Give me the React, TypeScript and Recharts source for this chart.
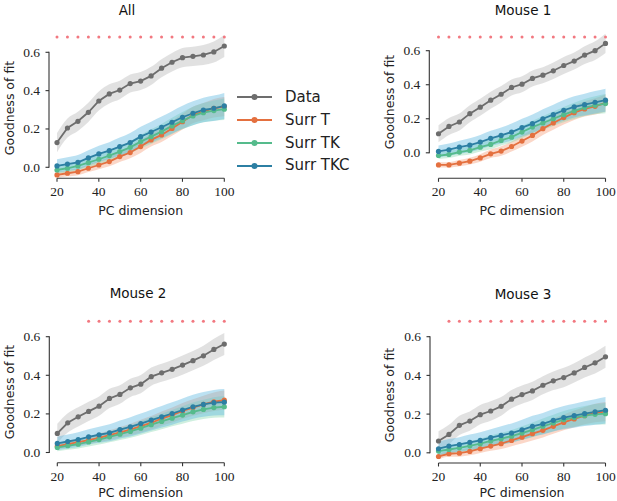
import React from 'react';
import { ComposedChart, Line, Area, XAxis, YAxis, Legend } from 'recharts';

// ---------------- data ----------------
const PC_DIMS = [20, 25, 30, 35, 40, 45, 50, 55, 60, 65, 70, 75, 80, 85, 90, 95, 100];
const X_TICKS = [20, 40, 60, 80, 100];
const Y_TICKS = [0, 0.2, 0.4, 0.6];
const SERIES_NAMES = ['Data', 'Surr T', 'Surr TK', 'Surr TKC'];
const PANEL_TITLES = ['All', 'Mouse 1', 'Mouse 2', 'Mouse 3'];
const SIG_LEVEL = 0.68;

// All
const ALL_DATA = [0.129, 0.205, 0.24, 0.287, 0.346, 0.383, 0.403, 0.437, 0.45, 0.477, 0.517, 0.548, 0.572, 0.579, 0.586, 0.602, 0.633];
const ALL_SURR_T = [-0.04, -0.031, -0.023, -0.005, 0.012, 0.03, 0.056, 0.077, 0.108, 0.143, 0.169, 0.203, 0.238, 0.273, 0.29, 0.308, 0.317];
const ALL_SURR_TK = [-0.014, -0.005, 0.007, 0.024, 0.042, 0.061, 0.082, 0.104, 0.134, 0.16, 0.186, 0.216, 0.243, 0.268, 0.285, 0.296, 0.303];
const ALL_SURR_TKC = [0.007, 0.017, 0.026, 0.049, 0.07, 0.087, 0.108, 0.129, 0.16, 0.184, 0.209, 0.235, 0.261, 0.282, 0.299, 0.308, 0.32];
const ALL_SIG = [20, 25, 30, 35, 40, 45, 50, 55, 60, 65, 70, 75, 80, 85, 90, 95, 100];

// Mouse 1
const M1_DATA = [0.112, 0.155, 0.181, 0.23, 0.268, 0.309, 0.344, 0.384, 0.403, 0.437, 0.456, 0.482, 0.513, 0.539, 0.574, 0.6, 0.643];
const M1_SURR_T = [-0.071, -0.071, -0.061, -0.049, -0.03, -0.006, 0.01, 0.037, 0.069, 0.102, 0.142, 0.175, 0.207, 0.236, 0.258, 0.273, 0.293];
const M1_SURR_TK = [-0.016, -0.01, 0.004, 0.014, 0.033, 0.049, 0.073, 0.092, 0.122, 0.151, 0.175, 0.2, 0.224, 0.246, 0.266, 0.279, 0.289];
const M1_SURR_TKC = [0.008, 0.018, 0.033, 0.045, 0.063, 0.085, 0.102, 0.122, 0.148, 0.171, 0.2, 0.224, 0.25, 0.27, 0.283, 0.297, 0.309];
const M1_SIG = [20, 25, 30, 35, 40, 45, 50, 55, 60, 65, 70, 75, 80, 85, 90, 95, 100];

// Mouse 2
const M2_DATA = [0.099, 0.154, 0.185, 0.213, 0.24, 0.28, 0.301, 0.335, 0.354, 0.393, 0.413, 0.431, 0.453, 0.476, 0.501, 0.534, 0.562];
const M2_SURR_T = [0.033, 0.043, 0.054, 0.064, 0.076, 0.09, 0.104, 0.119, 0.137, 0.154, 0.176, 0.194, 0.215, 0.233, 0.249, 0.263, 0.271];
const M2_SURR_TK = [0.026, 0.035, 0.043, 0.055, 0.067, 0.081, 0.095, 0.109, 0.126, 0.144, 0.161, 0.178, 0.194, 0.211, 0.223, 0.233, 0.237];
const M2_SURR_TKC = [0.047, 0.057, 0.067, 0.081, 0.092, 0.102, 0.119, 0.133, 0.15, 0.168, 0.185, 0.202, 0.22, 0.237, 0.249, 0.258, 0.261];
const M2_SIG = [35, 40, 45, 50, 55, 60, 65, 70, 75, 80, 85, 90, 95, 100];

// Mouse 3
const M3_DATA = [0.061, 0.095, 0.142, 0.164, 0.197, 0.216, 0.24, 0.277, 0.301, 0.32, 0.349, 0.372, 0.389, 0.413, 0.441, 0.465, 0.496];
const M3_SURR_T = [-0.019, -0.005, -0.002, 0.007, 0.021, 0.035, 0.047, 0.064, 0.081, 0.099, 0.116, 0.137, 0.157, 0.175, 0.192, 0.206, 0.213];
const M3_SURR_TK = [0.009, 0.017, 0.026, 0.036, 0.047, 0.061, 0.073, 0.086, 0.102, 0.119, 0.137, 0.154, 0.171, 0.182, 0.192, 0.199, 0.202];
const M3_SURR_TKC = [0.021, 0.035, 0.043, 0.054, 0.064, 0.078, 0.09, 0.102, 0.119, 0.137, 0.15, 0.168, 0.182, 0.192, 0.202, 0.211, 0.22];
const M3_SIG = [25, 30, 35, 40, 45, 50, 55, 60, 65, 70, 75, 80, 85, 90, 95, 100];

// shaded band half-widths (per series)
const BAND_DATA = [0.05, 0.05, 0.05, 0.05, 0.05, 0.05, 0.048, 0.047, 0.047, 0.047, 0.047, 0.048, 0.05, 0.05, 0.052, 0.055, 0.057];
const BAND_SURR_T = [0.015, 0.016, 0.018, 0.02, 0.022, 0.025, 0.028, 0.03, 0.033, 0.035, 0.037, 0.039, 0.041, 0.043, 0.045, 0.048, 0.05];
const BAND_SURR_TK = [0.02, 0.021, 0.022, 0.024, 0.026, 0.028, 0.03, 0.032, 0.035, 0.038, 0.04, 0.042, 0.045, 0.048, 0.05, 0.053, 0.056];
const BAND_SURR_TKC = [0.035, 0.036, 0.038, 0.04, 0.042, 0.044, 0.047, 0.05, 0.052, 0.054, 0.056, 0.058, 0.06, 0.062, 0.064, 0.066, 0.068];

// ---------------- styles ----------------
const SERIES_KEYS = ['data', 'surrT', 'surrTK', 'surrTKC'];
const LINE_COLORS = ['#6d6d6d', '#e4703f', '#55bb8c', '#2c7fa3'];
const BAND_COLORS = ['#bdbdbd', '#f6a07c', '#86d8b0', '#5cb8e0'];
const BAND_OPACITY = [0.45, 0.42, 0.4, 0.42];
const SIG_COLOR = '#f27880';
const AXIS_COLOR = '#333333';
const TEXT_COLOR = '#222222';
const SANS = '"DejaVu Sans", sans-serif';
const SERIF = '"Liberation Serif", serif';
const PAGE_W = 617;
const PAGE_H = 501;
const YAW = 30;
const XAH = 30;

const PANEL_VALUES = [
  [ALL_DATA, ALL_SURR_T, ALL_SURR_TK, ALL_SURR_TKC],
  [M1_DATA, M1_SURR_T, M1_SURR_TK, M1_SURR_TKC],
  [M2_DATA, M2_SURR_T, M2_SURR_TK, M2_SURR_TKC],
  [M3_DATA, M3_SURR_T, M3_SURR_TK, M3_SURR_TKC],
];
const PANEL_SIG = [ALL_SIG, M1_SIG, M2_SIG, M3_SIG];
const BANDS = [BAND_DATA, BAND_SURR_T, BAND_SURR_TK, BAND_SURR_TKC];

type Lay = {
  x20: number; x100: number; y0: number; y06: number; spineY: number; spineX: number; top: number;
  titleX: number; titleY: number; ylabX: number; ylabY: number; xlabY: number;
};

const LAYOUTS: Lay[] = [
  { x20: 57, x100: 224.3, y0: 167.3, y06: 52.3, spineY: 178.3, spineX: 49, top: 25, titleX: 127, titleY: 10, ylabX: 9, ylabY: 108, xlabY: 210 },
  { x20: 438.5, x100: 605.5, y0: 152.8, y06: 50.7, spineY: 178.3, spineX: 429.3, top: 25, titleX: 523, titleY: 10, ylabX: 389.5, ylabY: 102, xlabY: 210 },
  { x20: 57.3, x100: 224.3, y0: 452.5, y06: 336.7, spineY: 462.7, spineX: 49.3, top: 305, titleX: 138, titleY: 293, ylabX: 9, ylabY: 392, xlabY: 492 },
  { x20: 438.5, x100: 605.5, y0: 452.8, y06: 336.7, spineY: 463, spineX: 430, top: 305, titleX: 523, titleY: 294, ylabX: 389.5, ylabY: 395, xlabY: 492 },
];

function buildRows(p: number) {
  const vals = PANEL_VALUES[p];
  const sig = PANEL_SIG[p];
  return PC_DIMS.map((pc, i) => {
    const row: Record<string, any> = { pc };
    SERIES_KEYS.forEach((k, s) => {
      const v = vals[s][i];
      row[k] = v;
      row[k + 'Band'] = [v - BANDS[s][i], v + BANDS[s][i]];
    });
    row.sig = sig.includes(pc) ? SIG_LEVEL : null;
    return row;
  });
}

const LegendBox = () => (
  <div style={{ fontFamily: SANS, fontSize: 15, color: TEXT_COLOR }}>
    {SERIES_NAMES.map((name, i) => (
      <div key={name} style={{ display: 'flex', alignItems: 'center', height: 22.9 }}>
        <svg width={36} height={10} style={{ display: 'block' }}>
          <line x1={0} x2={35} y1={5} y2={5} stroke={LINE_COLORS[i]} strokeWidth={2} />
          <circle cx={17.5} cy={5} r={3} fill={LINE_COLORS[i]} />
        </svg>
        <span style={{ marginLeft: 12.5, lineHeight: '22.9px', whiteSpace: 'nowrap' }}>{name}</span>
      </div>
    ))}
  </div>
);

function Panel({ p }: { p: number }) {
  const lay = LAYOUTS[p];
  const ppu = (lay.y0 - lay.y06) / 0.6;
  const yMin = -(lay.spineY - lay.y0) / ppu;
  const yMax = (lay.y0 - lay.top) / ppu;
  const rows = buildRows(p);

  const YTick = (props: any) => {
    const { y, payload } = props;
    const sx = lay.spineX;
    return (
      <g>
        <line x1={sx - 3.5} x2={sx} y1={y} y2={y} stroke={AXIS_COLOR} strokeWidth={1.1} />
        {payload.value === 0 && (
          <line x1={sx} x2={sx} y1={y + 0.55} y2={y - 0.6 * ppu - 0.55} stroke={AXIS_COLOR} strokeWidth={1.1} />
        )}
        <text x={sx - 9} y={y} textAnchor="end" dominantBaseline="central" fontFamily={SERIF} fontSize={13.5} fill={TEXT_COLOR}>
          {Number(payload.value).toFixed(1)}
        </text>
      </g>
    );
  };

  const XTick = (props: any) => {
    const { x, payload } = props;
    const sy = lay.spineY;
    return (
      <g>
        <line x1={x} x2={x} y1={sy} y2={sy + 3.5} stroke={AXIS_COLOR} strokeWidth={1.1} />
        <text x={x} y={sy + 13.5} textAnchor="middle" dominantBaseline="central" fontFamily={SERIF} fontSize={13.5} fill={TEXT_COLOR}>
          {payload.value}
        </text>
      </g>
    );
  };

  const XLab = () => (
    <text x={(lay.x20 + lay.x100) / 2} y={lay.xlabY} textAnchor="middle" dominantBaseline="central" fontFamily={SANS} fontSize={12.5} fill={TEXT_COLOR}>
      PC dimension
    </text>
  );
  const YLab = () => (
    <text
      x={lay.ylabX}
      y={lay.ylabY}
      textAnchor="middle"
      dominantBaseline="central"
      fontFamily={SANS}
      fontSize={12.5}
      fill={TEXT_COLOR}
      transform={`rotate(-90 ${lay.ylabX} ${lay.ylabY})`}
    >
      Goodness of fit
    </text>
  );

  return (
    <div style={{ position: 'absolute', left: 0, top: 0, width: PAGE_W, height: PAGE_H }}>
      <ComposedChart
        width={PAGE_W}
        height={PAGE_H}
        data={rows}
        margin={{ left: lay.x20 - YAW, right: PAGE_W - lay.x100, top: lay.top, bottom: PAGE_H - lay.spineY - XAH }}
      >
        <XAxis
          type="number"
          dataKey="pc"
          domain={[20, 100]}
          ticks={X_TICKS}
          interval={0}
          height={XAH}
          tickLine={false}
          axisLine={{ stroke: AXIS_COLOR, strokeWidth: 1.1 }}
          tick={XTick}
          label={<XLab />}
        />
        <YAxis
          type="number"
          domain={[yMin, yMax]}
          ticks={Y_TICKS}
          interval={0}
          width={YAW}
          tickLine={false}
          axisLine={false}
          tick={YTick}
          label={<YLab />}
        />
        {SERIES_KEYS.map((k, s) => (
          <Area
            key={k + 'Band'}
            dataKey={k + 'Band'}
            type="monotone"
            stroke="none"
            fill={BAND_COLORS[s]}
            fillOpacity={BAND_OPACITY[s]}
            isAnimationActive={false}
            activeDot={false}
            legendType="none"
          />
        ))}
        {SERIES_KEYS.map((k, s) => (
          <Line
            key={k}
            dataKey={k}
            name={SERIES_NAMES[s]}
            type="linear"
            stroke={LINE_COLORS[s]}
            strokeWidth={1.8}
            dot={{ r: 2.6, fill: LINE_COLORS[s], stroke: LINE_COLORS[s], strokeWidth: 0 }}
            activeDot={false}
            isAnimationActive={false}
          />
        ))}
        <Line
          dataKey="sig"
          stroke="none"
          dot={{ r: 1.5, fill: SIG_COLOR, stroke: SIG_COLOR, strokeWidth: 0 }}
          activeDot={false}
          isAnimationActive={false}
          legendType="none"
        />
        {p === 0 && (
          <Legend
            layout="vertical"
            align="center"
            verticalAlign="middle"
            content={<LegendBox />}
            wrapperStyle={{ left: 236.5, top: 85.8, width: 'auto', height: 'auto' }}
          />
        )}
      </ComposedChart>
    </div>
  );
}

export default function App() {
  return (
    <div style={{ position: 'absolute', left: 0, top: 0, width: PAGE_W, height: PAGE_H, background: '#ffffff' }}>
      {LAYOUTS.map((lay, p) => (
        <Panel key={p} p={p} />
      ))}
      {LAYOUTS.map((lay, p) => (
        <div
          key={'t' + p}
          style={{
            position: 'absolute',
            left: lay.titleX - 60,
            top: lay.titleY - 10,
            width: 120,
            height: 20,
            lineHeight: '20px',
            textAlign: 'center',
            fontFamily: SANS,
            fontSize: 13.5,
            color: '#111111',
          }}
        >
          {PANEL_TITLES[p]}
        </div>
      ))}
    </div>
  );
}
